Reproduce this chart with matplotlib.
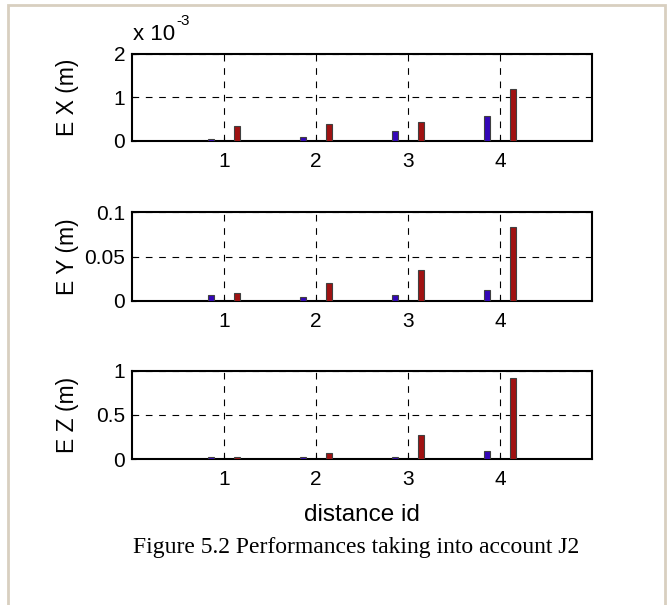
import numpy as np
import matplotlib.pyplot as plt
from matplotlib.patches import Rectangle

# distance ids and error values
dist_id = [1, 2, 3, 4]
ex_blue = [0.05e-3, 0.10e-3, 0.22e-3, 0.58e-3]
ex_red = [0.35e-3, 0.40e-3, 0.44e-3, 1.20e-3]
ey_blue = [0.007, 0.005, 0.007, 0.012]
ey_red = [0.009, 0.020, 0.035, 0.083]
ez_blue = [0.019, 0.019, 0.019, 0.087]
ez_red = [0.019, 0.065, 0.27, 0.915]

labels = ['E X (m)', 'E Y (m)', 'E Z (m)']
yticks = [[0, 1e-3, 2e-3], [0, 0.05, 0.1], [0, 0.5, 1]]
ytick_text = [['0', '1', '2'], ['0', '0.05', '0.1'], ['0', '0.5', '1']]

blue = '#3406b8'
red = '#a01212'
edge = '#404040'

plt.rcParams['font.family'] = ['Liberation Sans', 'DejaVu Sans']

fig = plt.figure(figsize=(6.67, 6.05), dpi=100)
# light frame round the figure
fig.patches.append(Rectangle((8 / 667, -0.01), 657 / 667, 1 - 5 / 605 + 0.01,
                             transform=fig.transFigure, fill=False,
                             edgecolor='#d8cfc0', linewidth=2))

positions = [[0.198, 0.767, 0.690, 0.144],
             [0.198, 0.5025, 0.690, 0.147],
             [0.198, 0.2413, 0.690, 0.1455]]
data = [(ex_blue, ex_red), (ey_blue, ey_red), (ez_blue, ez_red)]

x = np.array(dist_id)
w = 0.065
for i, pos in enumerate(positions):
    ax = fig.add_axes(pos)
    b, r = data[i]
    ax.bar(x - 0.14, b, width=w, color=blue, edgecolor=edge, linewidth=0.8, zorder=3)
    ax.bar(x + 0.14, r, width=w, color=red, edgecolor=edge, linewidth=0.8, zorder=3)
    ax.set_xlim(0, 5)
    ax.set_ylim(yticks[i][0], yticks[i][-1])
    ax.set_xticks(dist_id)
    ax.set_yticks(yticks[i])
    ax.set_yticklabels(ytick_text[i])
    ax.grid(True, color='black', linestyle=(0, (6, 6)), linewidth=0.8, zorder=1)
    ax.tick_params(direction='in', length=3, labelsize=15, width=0.8)
    ax.tick_params(axis='x', pad=8)
    ax.tick_params(axis='y', pad=5)
    for s in ax.spines.values():
        s.set_linewidth(1.5)
    ax.yaxis.set_label_coords(-0.115, 0.5)
    ax.set_ylabel(labels[i], fontsize=16.5)

# exponent of the top panel, written MATLAB style
fig.text(133 / 667, 1 - 34 / 605, 'x 10', fontsize=16, va='center', ha='left')
fig.text(176 / 667, 1 - 21 / 605, '-3', fontsize=11, va='center', ha='left')
fig.text(0.198 + 0.345, 1 - 515 / 605, 'distance id', fontsize=17.5, ha='center', va='center')
fig.text(356 / 667, 1 - 547 / 605, 'Figure 5.2 Performances taking into account J2',
         fontsize=17, ha='center', va='center', family=['Liberation Serif', 'DejaVu Serif'])

fig.savefig('out.png', dpi=100)
